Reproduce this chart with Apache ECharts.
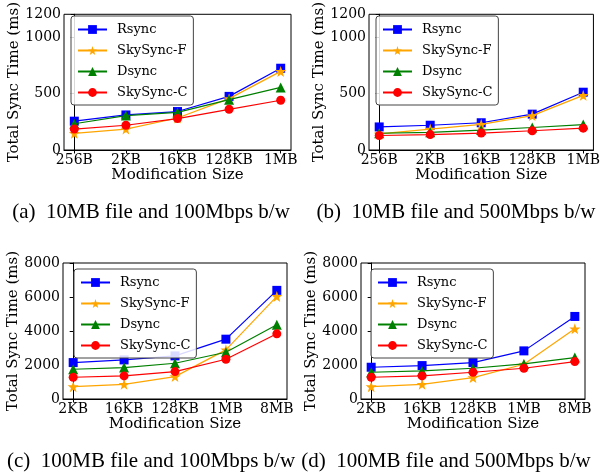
<!DOCTYPE html>
<html>
<head>
<meta charset="utf-8">
<script src="https://cdn.jsdelivr.net/npm/echarts@6/dist/echarts.min.js"></script>
<style>html,body{margin:0;padding:0;background:#fff;}#c{width:603px;height:475px;}</style>
</head>
<body>
<div id="c"></div>
<script>
// ---- data ----
const catsSmall = ['256B', '2KB', '16KB', '128KB', '1MB'];
const catsLarge = ['2KB', '16KB', '128KB', '1MB', '8MB'];
const yTicksSmall = [0, 500, 1000, 1200];
const yTicksLarge = [0, 2000, 4000, 6000, 8000];
const seriesNames = ['Rsync', 'SkySync-F', 'Dsync', 'SkySync-C'];
const captions = ['(a)  10MB file and 100Mbps b/w', '(b)  10MB file and 500Mbps b/w',
                  '(c)  100MB file and 100Mbps b/w', '(d)  100MB file and 500Mbps b/w'];

// (a) 10MB, 100Mbps
const rsyncA = [255, 310, 340, 474, 723];
const skyFA  = [147, 185, 283, 454, 695];
const dsyncA = [232, 304, 332, 445, 553];
const skyCA  = [185, 219, 278, 360, 440];
// (b) 10MB, 500Mbps
const rsyncB = [204, 219, 241, 317, 511];
const skyFB  = [142, 185, 227, 304, 483];
const dsyncB = [148, 156, 176, 199, 225];
const skyCB  = [128, 136, 150, 170, 193];
// (c) 100MB, 100Mbps
const rsyncC = [2143, 2300, 2536, 3519, 6390];
const skyFC  = [727, 865, 1317, 2890, 6036];
const dsyncC = [1750, 1848, 2104, 2752, 4365];
const skyCC  = [1278, 1357, 1612, 2339, 3834];
// (d) 100MB, 500Mbps
const rsyncD = [1868, 1966, 2143, 2831, 4856];
const skyFD  = [727, 865, 1258, 2045, 4129];
const dsyncD = [1573, 1651, 1809, 2064, 2438];
const skyCD  = [1278, 1357, 1573, 1809, 2202];

const panels = [
  {cats: catsSmall, yMax: 1200, yTicks: yTicksSmall, data: [rsyncA, skyFA, dsyncA, skyCA]},
  {cats: catsSmall, yMax: 1200, yTicks: yTicksSmall, data: [rsyncB, skyFB, dsyncB, skyCB]},
  {cats: catsLarge, yMax: 8000, yTicks: yTicksLarge, data: [rsyncC, skyFC, dsyncC, skyCC]},
  {cats: catsLarge, yMax: 8000, yTicks: yTicksLarge, data: [rsyncD, skyFD, dsyncD, skyCD]}
];

// ---- styling / layout ----
const W = 603;
const grids = [
  {left: 64, top: 9, right: W - 291, bottom: 475 - 150},
  {left: 369, top: 9, right: W - 596, bottom: 475 - 150},
  {left: 63, top: 263, right: W - 287, bottom: 475 - 399},
  {left: 361, top: 263, right: W - 585, bottom: 475 - 399}
];
const legendPos = [{left: 71, top: 16}, {left: 376, top: 16}, {left: 74, top: 269}, {left: 371, top: 269}];
const captionPos = [[151, 212], [456, 212], [151, 461], [446, 461]];
const colors = ['#0000ff', '#ffa500', '#008000', '#ff0000'];
const star = 'path://M0,-10 L2.35,-3.24 L9.51,-3.09 L3.8,1.24 L5.88,8.09 L0,4 L-5.88,8.09 L-3.8,1.24 L-9.51,-3.09 L-2.35,-3.24 Z';
const symbols = ['rect', star, 'triangle', 'circle'];
const symSizes = [9, 11, 10, 9];
const serif = 'DejaVu Serif';

const option = {
  animation: false,
  backgroundColor: '#fff',
  grid: [], xAxis: [], yAxis: [], series: [], legend: [], graphic: []
};

panels.forEach((p, i) => {
  option.grid.push(Object.assign({show: true, borderColor: '#000', borderWidth: 1, containLabel: false}, grids[i]));
  const idx = p.cats.map((_, k) => k);
  option.xAxis.push({
    gridIndex: i, type: 'value', min: -0.2, max: 4.2,
    name: 'Modification Size', nameLocation: 'middle', nameGap: 17,
    nameTextStyle: {fontFamily: serif, fontSize: 15, color: '#000'},
    axisLine: {show: true, lineStyle: {color: '#000', width: 1}},
    axisTick: {show: true, length: 3.5, customValues: idx, lineStyle: {color: '#000'}},
    axisLabel: {customValues: idx, margin: 3, fontFamily: serif, fontSize: 14, color: '#000',
                formatter: v => p.cats[Math.round(v)]},
    splitLine: {show: false}
  });
  option.yAxis.push({
    gridIndex: i, type: 'value', min: 0, max: p.yMax,
    name: 'Total Sync Time (ms)', nameLocation: 'middle', nameGap: 37,
    nameTextStyle: {fontFamily: serif, fontSize: 15, color: '#000'},
    axisLine: {show: true, lineStyle: {color: '#000', width: 1}},
    axisTick: {show: true, length: 3.5, customValues: p.yTicks, lineStyle: {color: '#000'}},
    axisLabel: {customValues: p.yTicks, margin: 3, fontFamily: serif, fontSize: 14, color: '#000',
                formatter: v => String(v)},
    splitLine: {show: false}
  });
  p.data.forEach((vals, s) => {
    option.series.push({
      type: 'line', name: seriesNames[s], xAxisIndex: i, yAxisIndex: i,
      data: vals.map((v, k) => [k, v]),
      symbol: symbols[s], symbolSize: symSizes[s],
      itemStyle: {color: colors[s]},
      lineStyle: {color: colors[s], width: 1.2},
      z: 2 + s * 0.1
    });
  });
  option.legend.push(Object.assign({
    orient: 'vertical', data: seriesNames,
    itemWidth: 29, itemHeight: 11, itemGap: 6,
    padding: [6, 6, 5, 6],
    backgroundColor: 'rgba(255,255,255,0.85)',
    borderColor: '#444', borderWidth: 1, borderRadius: 3,
    selectedMode: false,
    textStyle: {fontFamily: serif, fontSize: 13, lineHeight: 15, color: '#000', padding: [0, 0, 0, 5]}
  }, legendPos[i]));
  option.graphic.push({
    type: 'text', x: captionPos[i][0], y: captionPos[i][1],
    style: {text: captions[i], fontFamily: 'Liberation Serif', fontSize: 21, fill: '#000',
            textAlign: 'center', textVerticalAlign: 'middle'}
  });
});

const chart = echarts.init(document.getElementById('c'), null, {renderer: 'canvas'});
chart.setOption(option);
</script>
</body>
</html>
